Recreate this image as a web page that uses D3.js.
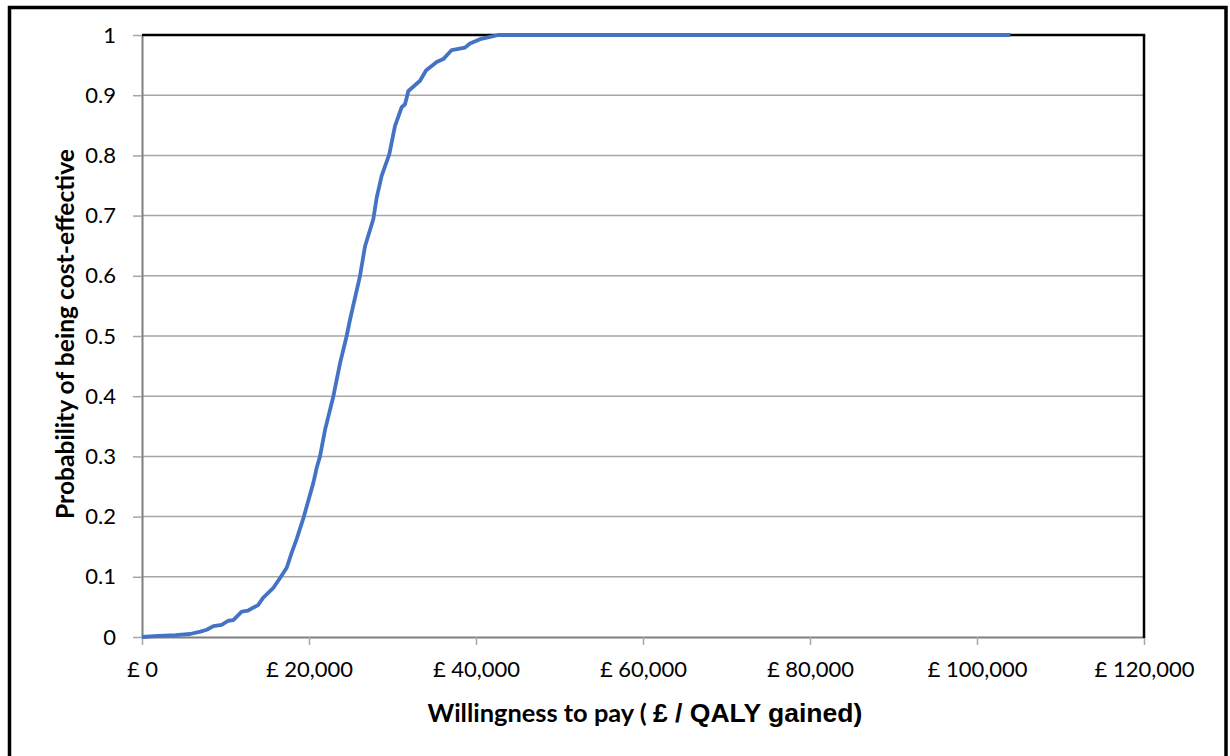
<!DOCTYPE html>
<html>
<head>
<meta charset="utf-8">
<script src="https://cdn.jsdelivr.net/npm/d3@7"></script>
<style>
  html, body { margin: 0; padding: 0; background: #fff; }
  svg { display: block; }
</style>
</head>
<body>
<svg id="chart" width="1230" height="756"></svg>
<script>
// ---- data ----
const wtp = [0, 2000, 4000, 5750, 7000, 7750, 8550, 9540, 10330, 10930, 11940, 12700, 13900, 14500, 15700, 16530, 17330, 17930, 18530, 19320, 20520, 20920, 21320, 21920, 22920, 23720, 24510, 24910, 26110, 26710, 27700, 28110, 28700, 29620, 30300, 31100, 31500, 31900, 33300, 34010, 35290, 36080, 37090, 38680, 39280, 40480, 41680, 42670, 104000];
const prob = [0, 0.002, 0.003, 0.005, 0.009, 0.012, 0.018, 0.02, 0.027, 0.028, 0.042, 0.044, 0.053, 0.065, 0.081, 0.098, 0.115, 0.14, 0.163, 0.197, 0.256, 0.281, 0.30, 0.344, 0.40, 0.455, 0.50, 0.527, 0.60, 0.649, 0.694, 0.73, 0.766, 0.802, 0.849, 0.88, 0.885, 0.907, 0.924, 0.941, 0.955, 0.96, 0.975, 0.979, 0.986, 0.993, 0.997, 1.0, 1.0];
const xTicks = [0, 20000, 40000, 60000, 80000, 100000, 120000];
const yTicks = [0, 0.1, 0.2, 0.3, 0.4, 0.5, 0.6, 0.7, 0.8, 0.9, 1];
const yTitle = "Probability of being cost-effective";
const xTitleA = "Willingness to pay ( ";
const xTitleB = "£ / QALY gained)";

const svg = d3.select("#chart");
const plot = { left: 142, right: 1144, top: 35, bottom: 637 };

const x = d3.scaleLinear().domain([0, 120000]).range([plot.left, plot.right]);
const y = d3.scaleLinear().domain([0, 1]).range([plot.bottom, plot.top]);

// outer border
svg.append("rect")
  .attr("x", 9.5).attr("y", 7.5)
  .attr("width", 1216.5).attr("height", 770)
  .attr("fill", "#fff").attr("stroke", "#000").attr("stroke-width", 3.5);

// gridlines
svg.append("g")
  .selectAll("line")
  .data(yTicks.filter(d => d > 0 && d < 1))
  .join("line")
  .attr("x1", plot.left).attr("x2", plot.right)
  .attr("y1", d => y(d)).attr("y2", d => y(d))
  .attr("stroke", "#a6a6a6").attr("stroke-width", 1.5);

const fmtX = d => "£ " + d3.format(",")(d);
const fmtY = d => d3.format("~g")(d);

// y axis
const yAxis = svg.append("g")
  .attr("transform", `translate(${plot.left},0)`)
  .call(d3.axisLeft(y).tickValues(yTicks).tickFormat(fmtY).tickSize(9).tickSizeOuter(0).tickPadding(17));
yAxis.select(".domain").attr("stroke", "#7f7f7f").attr("stroke-width", 2);
yAxis.selectAll(".tick line").attr("stroke", "#a6a6a6").attr("stroke-width", 1.5);
yAxis.selectAll(".tick text")
  .attr("font-family", "Lato, 'Open Sans', sans-serif")
  .attr("font-size", 22).attr("fill", "#000");

// x axis
const xAxis = svg.append("g")
  .attr("transform", `translate(0,${plot.bottom})`)
  .call(d3.axisBottom(x).tickValues(xTicks).tickFormat(fmtX).tickSize(8).tickSizeOuter(0).tickPadding(16));
xAxis.select(".domain").attr("stroke", "#7f7f7f").attr("stroke-width", 2);
xAxis.selectAll(".tick line").attr("stroke", "#a6a6a6").attr("stroke-width", 1.5);
xAxis.selectAll(".tick text")
  .attr("font-family", "Lato, 'Open Sans', sans-serif")
  .attr("font-size", 22).attr("fill", "#000");

// top and right border of plot area
svg.append("line")
  .attr("x1", plot.left).attr("x2", plot.right + 1.2)
  .attr("y1", plot.top).attr("y2", plot.top)
  .attr("stroke", "#000").attr("stroke-width", 2.5);
svg.append("line")
  .attr("x1", plot.right).attr("x2", plot.right)
  .attr("y1", plot.top).attr("y2", plot.bottom + 1)
  .attr("stroke", "#000").attr("stroke-width", 2.5);

// curve
const pts = wtp.map((v, i) => [v, prob[i]]);
svg.append("path")
  .datum(pts)
  .attr("fill", "none")
  .attr("stroke", "#4472c4")
  .attr("stroke-width", 3.8)
  .attr("stroke-linejoin", "round")
  .attr("d", d3.line().x(d => x(d[0])).y(d => y(d[1])));

// axis titles
function fitWidth(sel, target) {
  const w = sel.node().getComputedTextLength();
  const k = target / w;
  sel.selectAll("tspan").each(function () {
    const t = d3.select(this);
    t.attr("font-size", (+t.attr("font-size")) * k);
  });
  if (sel.selectAll("tspan").empty()) sel.attr("font-size", (+sel.attr("font-size")) * k);
}

const yt = svg.append("text")
  .attr("transform", `translate(74,${(plot.top + plot.bottom) / 2 - 2}) rotate(-90)`)
  .attr("text-anchor", "middle")
  .attr("font-family", "Lato, 'Open Sans', sans-serif")
  .attr("font-weight", "bold")
  .attr("font-size", 21)
  .attr("fill", "#000")
  .text(yTitle);
fitWidth(yt, 370);

const xt = svg.append("text")
  .attr("x", (plot.left + plot.right) / 2 + 2)
  .attr("y", 722)
  .attr("text-anchor", "middle")
  .attr("font-weight", "bold")
  .attr("fill", "#000");
xt.append("tspan")
  .attr("font-family", "Lato, 'Open Sans', sans-serif")
  .attr("font-size", 22)
  .text(xTitleA);
xt.append("tspan")
  .attr("font-family", "'Liberation Sans', Arial, sans-serif")
  .attr("font-size", 23)
  .text(xTitleB);
fitWidth(xt, 435);
</script>
</body>
</html>
